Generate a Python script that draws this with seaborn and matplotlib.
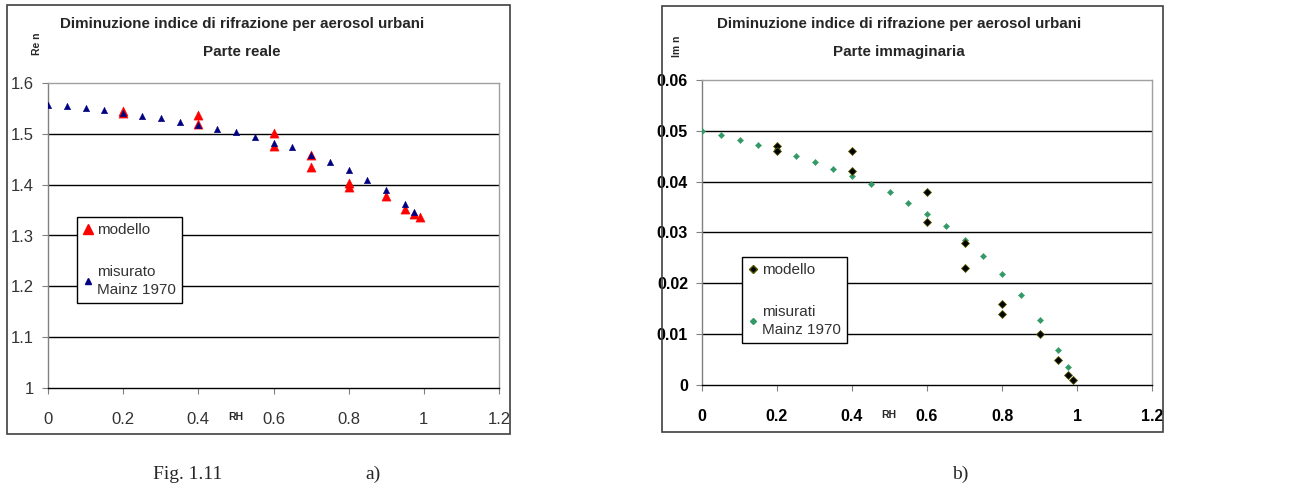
import matplotlib
matplotlib.use("Agg")
import matplotlib.pyplot as plt
import seaborn as sns
import pandas as pd
from matplotlib.lines import Line2D
from matplotlib.patches import Rectangle

# Relative humidity grid of the measurements (Mainz 1970)
rh_meas = [0.0, 0.05, 0.1, 0.15, 0.2, 0.25, 0.3, 0.35, 0.4, 0.45, 0.5, 0.55,
           0.6, 0.65, 0.7, 0.75, 0.8, 0.85, 0.9, 0.95, 0.975]
re_meas = [1.557, 1.554, 1.550, 1.546, 1.541, 1.536, 1.531, 1.523, 1.518, 1.510,
           1.504, 1.494, 1.482, 1.474, 1.459, 1.445, 1.429, 1.410, 1.389, 1.361, 1.346]
im_meas = [0.0499, 0.0492, 0.0482, 0.0473, 0.0464, 0.0451, 0.0439, 0.0425, 0.0411,
           0.0395, 0.0379, 0.0358, 0.0336, 0.0312, 0.0286, 0.0254, 0.0218, 0.0177,
           0.0127, 0.0069, 0.0036]

# Model results
rh_model = [0.2, 0.2, 0.4, 0.4, 0.6, 0.6, 0.7, 0.7, 0.8, 0.8, 0.9, 0.95, 0.975, 0.99]
re_model = [1.545, 1.540, 1.538, 1.520, 1.502, 1.477, 1.459, 1.435, 1.403, 1.395,
            1.378, 1.353, 1.343, 1.336]
im_model = [0.047, 0.046, 0.046, 0.042, 0.038, 0.032, 0.028, 0.023, 0.016, 0.014,
            0.010, 0.005, 0.002, 0.001]

re_ticks = [1.0, 1.1, 1.2, 1.3, 1.4, 1.5, 1.6]
im_ticks = [0.0, 0.01, 0.02, 0.03, 0.04, 0.05, 0.06]
x_ticks = [0, 0.2, 0.4, 0.6, 0.8, 1.0, 1.2]

title_main = "Diminuzione indice di rifrazione per aerosol urbani"

sns.set_theme(style="white")
plt.rcParams["font.family"] = ["Liberation Sans", "DejaVu Sans"]

fig = plt.figure(figsize=(12.99, 4.9), dpi=100)
W, H = 1299, 490


def px_axes(x0, y0, x1, y1):
    return fig.add_axes([x0 / W, 1 - y1 / H, (x1 - x0) / W, (y1 - y0) / H])


def style_axes(ax, ymin, ymax, yticks, ylabels, tick_weight, tick_color, tick_size):
    ax.set_xlim(0, 1.2)
    ax.set_ylim(ymin, ymax)
    ax.set_xticks(x_ticks)
    ax.set_xticklabels(["0", "0.2", "0.4", "0.6", "0.8", "1", "1.2"])
    ax.set_yticks(yticks)
    ax.set_yticklabels(ylabels)
    for yv in yticks[1:-1]:
        ax.axhline(yv, color="black", lw=1.0, zorder=1)
    ax.spines["top"].set_color("#a0a0a0")
    ax.spines["right"].set_color("#a0a0a0")
    ax.spines["left"].set_color("#808080")
    ax.spines["bottom"].set_color("black")
    for s in ax.spines.values():
        s.set_linewidth(1.0)
    ax.tick_params(axis="both", which="major", direction="out", length=4,
                   width=0.8, color="#808080", bottom=True, left=True,
                   labelsize=tick_size, labelcolor=tick_color)
    ax.tick_params(axis="x", pad=13)
    ax.tick_params(axis="y", pad=6)
    for lab in ax.get_xticklabels() + ax.get_yticklabels():
        lab.set_fontweight(tick_weight)
    ax.set_xlabel("")
    ax.set_ylabel("")


# Panel a): real part
ax1 = px_axes(48, 83, 499, 388)
sns.scatterplot(x=rh_meas, y=re_meas, ax=ax1, marker="^", s=22, color="#000080",
                edgecolor="#000080", linewidth=0.3, zorder=4)
sns.scatterplot(x=rh_model, y=re_model, ax=ax1, marker="^", s=44, color="#ff0000",
                edgecolor="#ff0000", linewidth=0.3, zorder=3)
style_axes(ax1, 1.0, 1.6, re_ticks, ["1", "1.1", "1.2", "1.3", "1.4", "1.5", "1.6"],
           "normal", "#333333", 12)
h1 = [Line2D([], [], ls="", marker="^", ms=7, color="#ff0000"),
      Line2D([], [], ls="", marker="^", ms=4.5, color="#000080")]
leg1 = ax1.legend(h1, ["modello", "misurato\nMainz 1970"], loc="upper left",
                  bbox_to_anchor=(0.064, 0.56), frameon=True, fancybox=False,
                  edgecolor="black", framealpha=1, fontsize=11, handlelength=0.6,
                  handletextpad=0.3, labelspacing=1.8, borderpad=0.4,
                  borderaxespad=0)
leg1.get_frame().set_linewidth(1.0)
for t in leg1.get_texts():
    t.set_color("#333333")
    t.set_linespacing(1.4)

# Panel b): imaginary part
ax2 = px_axes(702, 80, 1152, 385)
sns.scatterplot(x=rh_meas, y=im_meas, ax=ax2, marker="D", s=10, color="#339966",
                edgecolor="#339966", linewidth=0.3, zorder=3)
sns.scatterplot(x=rh_model, y=im_model, ax=ax2, marker="D", s=16, color="black",
                edgecolor="#555500", linewidth=0.6, zorder=4)
style_axes(ax2, 0.0, 0.06, im_ticks,
           ["0", "0.01", "0.02", "0.03", "0.04", "0.05", "0.06"], "semibold", "black",
           11.5)
h2 = [Line2D([], [], ls="", marker="D", ms=4, color="black", mec="#555500"),
      Line2D([], [], ls="", marker="D", ms=3, color="#339966")]
leg2 = ax2.legend(h2, ["modello", "misurati\nMainz 1970"], loc="upper left",
                  bbox_to_anchor=(0.089, 0.42), frameon=True, fancybox=False,
                  edgecolor="black", framealpha=1, fontsize=11, handlelength=0.6,
                  handletextpad=0.3, labelspacing=1.8, borderpad=0.4,
                  borderaxespad=0)
leg2.get_frame().set_linewidth(1.0)
for t in leg2.get_texts():
    t.set_color("#333333")
    t.set_linespacing(1.4)

# Titles, axis names and panel frames
for cx, sub in [(242, "Parte reale"), (899, "Parte immaginaria")]:
    fig.text(cx / W, 1 - 24 / H, title_main, ha="center", va="center",
             fontsize=10.9, fontweight="bold")
    fig.text(cx / W, 1 - 52 / H, sub, ha="center", va="center",
             fontsize=10.9, fontweight="bold")

fig.text(37 / W, 1 - 44 / H, "Re n", rotation=90, ha="center", va="center",
         fontsize=7.5, fontweight="bold")
fig.text(677 / W, 1 - 46 / H, "Im n", rotation=90, ha="center", va="center",
         fontsize=7.5, fontweight="bold")
fig.text(236 / W, 1 - 417 / H, "RH", ha="center", va="center", fontsize=7.5,
         fontweight="bold")
fig.text(889 / W, 1 - 415 / H, "RH", ha="center", va="center", fontsize=7.5,
         fontweight="bold")

for x0, y0, x1, y1 in [(7, 5, 510, 434), (662, 6, 1163, 432)]:
    fig.add_artist(Rectangle((x0 / W, 1 - y1 / H), (x1 - x0) / W, (y1 - y0) / H,
                             transform=fig.transFigure, fill=False,
                             edgecolor="#404040", lw=1.2))

serif = ["Liberation Serif", "DejaVu Serif"]
fig.text(188 / W, 1 - 474 / H, "Fig. 1.11", ha="center", va="center",
         fontsize=14, family=serif)
fig.text(373 / W, 1 - 474 / H, "a)", ha="center", va="center", fontsize=14,
         family=serif)
fig.text(960 / W, 1 - 474 / H, "b)", ha="center", va="center", fontsize=14,
         family=serif)

fig.savefig("out.png", dpi=100, facecolor="white")
